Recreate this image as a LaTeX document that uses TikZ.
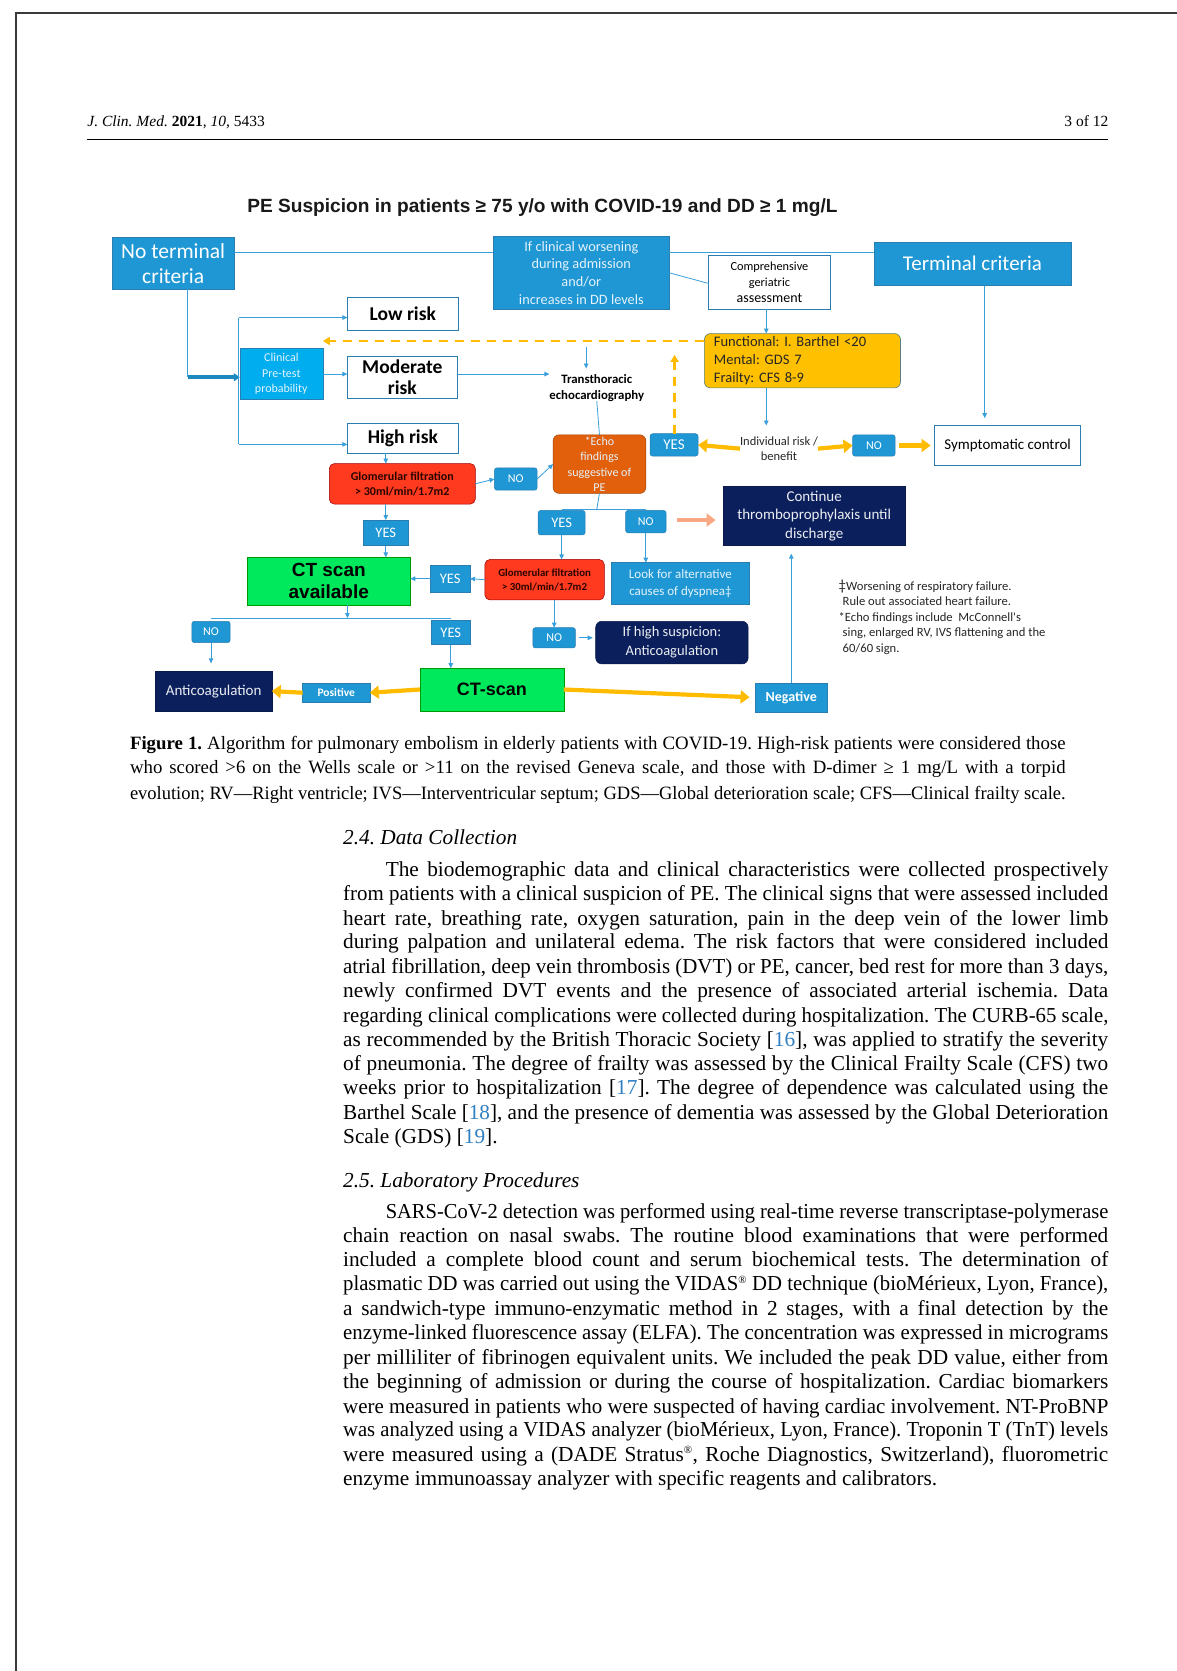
\documentclass[tikz,border=0pt]{standalone}
\usepackage{fontspec}
\usepackage{graphicx}
\setmainfont{Liberation Serif}
\newfontfamily\cali{Carlito}
\newfontfamily\arial{Liberation Sans}
\usetikzlibrary{arrows.meta,calc}

\definecolor{boxblue}{HTML}{1E97D4}
\definecolor{boxblueedge}{HTML}{2A7DB0}
\definecolor{cyanbox}{HTML}{00AEEF}
\definecolor{wireblue}{HTML}{3AA0DC}
\definecolor{amber}{HTML}{FFBB00}
\definecolor{amberbox}{HTML}{FFC000}
\definecolor{redbox}{HTML}{FF3A1E}
\definecolor{echobox}{HTML}{E2600C}
\definecolor{navy}{HTML}{0A1F5C}
\definecolor{greenbox}{HTML}{00E85C}
\definecolor{salmon}{HTML}{F8A882}
\definecolor{citeblue}{HTML}{2F7FC1}
\definecolor{framegray}{HTML}{3A3A3A}
\definecolor{paletext}{HTML}{E4F2FB}
\definecolor{darkred}{HTML}{2A0500}

\newcommand\fs[2]{\fontsize{#1}{#2}\selectfont}
\newsavebox\linebox
% one justified text line: spaces stretched, or glyphs squeezed when too long
\newcommand\fitline[2]{\sbox\linebox{#2}%
  \ifdim\wd\linebox>#1\relax\resizebox{#1}{\ht\linebox}{\usebox\linebox}%
  \else\makebox[#1][s]{#2}\fi}
\newcommand\citeref[1]{[\textcolor{citeblue}{#1}]}
\newcommand\regmark{\textsuperscript{\fs{11}{11}®}}
% box given by its corners (x1,y1) (x2,y2)
\newcommand\bx[7]{%
  \pgfmathsetmacro\bxw{(#5-#3)*1.0652}%
  \pgfmathsetmacro\bxh{(#6-#4)*1.0652}%
  \node[#2, minimum width=\bxw pt, minimum height=\bxh pt] (#1) at ({(#3+#5)/2},{(#4+#6)/2}) {#7};}

\begin{document}
\frenchspacing
\begin{tikzpicture}[x=1.0652pt,y=-1.0652pt,
  every node/.style={inner sep=0pt,outer sep=0pt},
  box/.style={align=center},
  bluebox/.style={box,fill=boxblue,draw=boxblueedge,line width=0.5pt,text=white},
  pill/.style={bluebox,rounded corners=2.5pt,font=\cali\fs{12}{12}},
  sqtag/.style={bluebox,font=\cali\fs{14.5}{14.5}},
  whitebox/.style={box,fill=white,draw=boxblueedge,line width=0.8pt,text=black},
  riskbox/.style={whitebox,font=\cali\bfseries\fs{19.5}{21.5}},
  cyanbox/.style={box,fill=cyanbox,draw=boxblueedge,line width=0.5pt,text=paletext,font=\cali\fs{12}{15.5}},
  amberbox/.style={box,fill=amberbox,draw=gray!70!teal,line width=0.6pt,rounded corners=6pt,text=black!85},
  redbox/.style={box,fill=redbox,draw=red!60!black,line width=0.5pt,rounded corners=5pt,text=darkred,font=\cali\bfseries\fs{12}{15}},
  echobox/.style={box,fill=echobox,draw=echobox!70!black,line width=0.5pt,rounded corners=6pt,text=paletext,font=\cali\fs{12}{15.3}},
  navybox/.style={box,fill=navy,draw=navy!80!black,line width=0.5pt,text=white!92!navy},
  greenbox/.style={box,fill=greenbox,draw=green!60!black,line width=0.5pt,text=black,font=\arial\bfseries\fs{19}{22}},
  plaintext/.style={align=center,text=black!85},
  wire/.style={draw=wireblue,line width=0.8pt},
  wirearrow/.style={wire,-{Triangle[length=5pt,width=4.5pt]}},
  fatarrow/.style={draw=amber,line width=4.2pt,-{Triangle[length=9pt,width=13pt]}},
  peacharrow/.style={draw=salmon,line width=4.2pt,-{Triangle[length=9pt,width=13pt]}},
  bluefat/.style={draw=boxblue!90!black,line width=4pt,-{Triangle[length=6pt,width=8pt]}},
  dasharrow/.style={draw=amber,line width=2.2pt,dash pattern=on 9pt off 7pt,-{Triangle[length=7pt,width=8pt]}},
  bodytext/.style={anchor=mid west,font=\fs{21.3}{24}},
  captext/.style={anchor=mid west,font=\fs{18.8}{22}},
]
\useasboundingbox (0,0) rectangle (1104,1568);
\fill[white] (0,0) rectangle (1104,1568);

% page frame
\draw[framegray,line width=1.6pt] (14,12) -- (1104,12);
\draw[framegray,line width=1.6pt] (15,12) -- (15,1568);

% running head
\node[anchor=mid west,font=\fs{15.5}{18}] (head) at (82,117) {\textit{J. Clin. Med.} \textbf{2021}, \textit{10}, 5433};
\node[anchor=mid east,font=\fs{15.5}{18}] (pageno) at (1040,117) {3 of 12};
\draw[black,line width=0.9pt] (82,131) -- (1040,131);

% ---------- flowchart ----------
\node[font=\arial\bfseries\fs{19.1}{21},text=black!90] (title) at (509,195)
  {PE Suspicion in patients ≥ 75 y/o with COVID-19 and DD ≥ 1 mg/L};

\bx{noterm}{bluebox,font=\cali\fs{21.5}{25}}{105}{223}{220}{271}{No terminal\\criteria}
\bx{ifclin}{bluebox,text=paletext,font=\cali\fs{14.3}{17.8}}{463}{222}{628}{290}{If clinical worsening\\during admission\\and/or\\increases in DD levels}
\bx{comp}{whitebox,font=\cali\fs{12.3}{16}}{665}{240}{779}{290}{Comprehensive\\geriatric\\{\fs{14}{16}assessment}}
\bx{termcrit}{bluebox,font=\cali\fs{21}{24}}{820}{227}{1005}{268}{Terminal criteria}

\bx{low}{riskbox}{326}{279}{430}{310}{Low risk}
\bx{clin}{cyanbox}{225}{327}{303}{375}{Clinical\\Pre-test\\probability}
\bx{mod}{riskbox}{326}{334}{429}{374}{Moderate\\risk}
\bx{high}{riskbox}{326}{397}{430}{425}{High risk}

\node[plaintext,text=black,font=\cali\bfseries\fs{12.8}{15.5}] (tte) at (560,364) {Transthoracic\\echocardiography};
\bx{func}{amberbox,align=left,text width=177pt,font=\cali\fs{14.5}{17.6}\frenchspacing}{661}{313}{845}{364}{Functional:\ I.\ Barthel <20\\Mental:\ GDS 7\\Frailty:\ CFS 8-9}

\bx{yesE}{pill,font=\cali\fs{15}{15}}{610}{407}{655}{428}{YES}
\node[plaintext,font=\cali\fs{12.5}{15.5}] (indiv) at (731,421) {Individual risk /\\benefit};
\bx{noE}{pill}{800}{408}{840}{428}{NO}
\bx{sympt}{whitebox,font=\cali\fs{15}{16}}{877}{399}{1014}{437}{Symptomatic control}

\bx{glomA}{redbox}{309}{435}{446}{473}{Glomerular filtration\\> 30ml/min/1.7m2}
\bx{noA}{pill}{464}{439}{504}{460}{NO}
\bx{echo}{echobox}{519}{408}{606}{463}{*Echo\\findings\\suggestive of\\PE}
\bx{yesA}{sqtag}{341}{488}{383}{512}{YES}
\bx{yesB}{pill,font=\cali\fs{14.5}{14.5}}{505}{479}{549}{502}{YES}
\bx{noB}{pill}{587}{479}{625}{500}{NO}
\bx{cont}{navybox,font=\cali\fs{15}{18.5}}{679}{456}{849}{512}{Continue\\thromboprophylaxis until\\discharge}
\bx{look}{bluebox,text=paletext,font=\cali\fs{13}{17}}{574}{528}{703}{567}{Look for alternative\\causes of dyspnea‡}

\bx{ctav}{greenbox}{232}{523}{385}{568}{CT scan\\available}
\bx{yesC}{sqtag}{404}{530}{441}{556}{YES}
\bx{glomB}{redbox,font=\cali\bfseries\fs{10.8}{14}}{455}{525}{567}{563}{Glomerular filtration\\> 30ml/min/1.7m2}

\bx{noC}{pill}{180}{583}{216}{603}{NO}
\bx{yesD}{sqtag}{405}{582}{441}{605}{YES}
\bx{noD}{pill}{500}{589}{540}{608}{NO}
\bx{hisus}{navybox,rounded corners=6pt,font=\cali\fs{14.5}{19}}{559}{583}{702}{623}{If high suspicion:\\Anticoagulation}

\bx{anti}{navybox,font=\cali\fs{15}{16}}{146}{630}{255}{667}{Anticoagulation}
\bx{pos}{bluebox,font=\cali\bfseries\fs{11.5}{12}}{284}{641}{347}{659}{Positive}
\bx{ct}{greenbox,font=\arial\bfseries\fs{18}{20}}{394}{627}{529}{667}{CT-scan}
\bx{neg}{bluebox,font=\cali\bfseries\fs{14}{15}}{709}{641}{776}{668}{Negative}

\node[anchor=north west,align=left,text=black!85,font=\cali\fs{12.6}{15.6}] (notes) at (787,544)
  {{\fs{15}{15.6}‡}Worsening of respiratory failure.\\
   \hspace*{4pt}Rule out associated heart failure.\\
   *Echo findings include\ \ McConnell's\\
   \hspace*{4pt}sing, enlarged RV, IVS flattening and the\\
   \hspace*{4pt}60/60 sign.};

% helper points for the junctions
\coordinate (jn) at (176,354);
\coordinate (lowtap) at (224,298);
\coordinate (hightap) at (224,417);
\coordinate (dashend) at (303,320);
\coordinate (ttein) at (550,326);
\coordinate (dashup) at (633,333);
\coordinate (echosplit) at (560,478);
\coordinate (salmstart) at (635,488);
\coordinate (ctsplit) at (326,580);

% connectors
\draw[wire] (noterm.east |- 0,237) -- (ifclin.west |- 0,237);
\draw[wire] (ifclin.east |- 0,237) -- (termcrit.west |- 0,237);
\draw[wire] (ifclin.east |- 0,256) -- (comp.west |- 0,266);
\draw[wirearrow] (comp.south -| 719,0) -- (func.north -| 719,0);
\draw[wirearrow,shorten >=11pt] (func.south -| 719,0) -- (indiv.north -| 719,0);
\draw[wirearrow,shorten >=7pt] (termcrit.south -| 924,0) -- (sympt.north -| 924,0);

\draw[wire] (noterm.south -| jn) -- (jn);
\draw[bluefat] (jn) -- (clin.west |- jn);
\draw[wire] (lowtap) -- (hightap);
\draw[wirearrow] (lowtap) -- (low.west |- lowtap);
\draw[wirearrow] (hightap) -- (high.west |- hightap);
\draw[wirearrow] (clin.east |- 0,351) -- (mod.west |- 0,351);
\draw[wirearrow] (mod.east |- 0,351) -- (tte.west |- 0,351);

\draw[dasharrow] (func.west |- dashend) -- (dashend);
\draw[wirearrow,shorten >=6pt] (ttein) -- (ttein |- tte.north);
\draw[wire] (tte.south) -- (echo.north);
\draw[dasharrow] (yesE.north -| dashup) -- (dashup);

\draw[fatarrow] (indiv.west) -- (yesE.east);
\draw[fatarrow] (indiv.east) -- (noE.west);
\draw[fatarrow,shorten >=4pt,shorten <=4pt] (noE.east) -- (sympt.west);

\draw[wirearrow] (high.south -| yesA.north) -- (glomA.north -| yesA.north);
\draw[wirearrow] (glomA.east) -- (noA.west);
\draw[wirearrow] (noA.east) -- (echo.west);
\draw[wirearrow] (glomA.south -| yesA.north) -- (yesA.north);
\draw[wirearrow] (yesA.south) -- (ctav.north -| yesA.south);

\draw[wire] (echo.south) -- (echosplit);
\draw[wire] (yesB.north |- echosplit) -- (noB.north |- echosplit);
\draw[wirearrow] (yesB.south) -- (glomB.north -| yesB.south);
\draw[wirearrow] (noB.south) -- (look.north -| noB.south);
\draw[peacharrow,shorten >=8pt] (salmstart) -- (cont.west |- salmstart);

\draw[wirearrow] (glomB.west) -- (yesC.east);
\draw[wirearrow] (yesC.west) -- (ctav.east |- yesC.west);

\draw[wirearrow] (ctav.south -| ctsplit) -- (ctsplit);
\draw[wire] (noC.north |- ctsplit) -- (yesD.north |- ctsplit);
\draw[wirearrow,shorten >=8pt] (noC.south) -- (anti.north -| noC.south);
\draw[wirearrow] (yesD.south) -- (ct.north -| yesD.south);

\draw[wirearrow] (glomB.south -| noD.north) -- (noD.north);
\draw[wirearrow,shorten <=4pt,shorten >=3pt] (noD.east) -- (hisus.west |- noD.east);

\draw[fatarrow] (ct.west) -- (pos.east);
\draw[fatarrow] (pos.west) -- (anti.east);
\draw[fatarrow,shorten >=6pt] (ct.east) -- (neg.west);
\draw[wirearrow,shorten >=8pt] (neg.north) -- (cont.south -| neg.north);

% ---------- caption ----------
\node[captext] (cap1) at (122,701) {\fitline{935.2pt}{\textbf{Figure 1.} Algorithm for pulmonary embolism in elderly patients with COVID-19. High-risk patients were considered those}};
\node[captext] (cap2) at (122,724) {\fitline{935.2pt}{who scored >6 on the Wells scale or >11 on the revised Geneva scale, and those with D-dimer ≥ 1 mg/L with a torpid}};
\node[captext] (cap3) at (122,748) {\fitline{935.2pt}{evolution; RV—Right ventricle; IVS—Interventricular septum; GDS—Global deterioration scale; CFS—Clinical frailty scale.}};

% ---------- section 2.4 ----------
\node[bodytext] (sec24) at (322,790) {\textit{2.4. Data Collection}};
\node[bodytext] (a1) at (362,820) {\fitline{722.2pt}{The biodemographic data and clinical characteristics were collected prospectively}};
\node[bodytext] (a2) at (322,843) {\fitline{764.8pt}{from patients with a clinical suspicion of PE. The clinical signs that were assessed included}};
\node[bodytext] (a3) at (322,866) {\fitline{764.8pt}{heart rate, breathing rate, oxygen saturation, pain in the deep vein of the lower limb}};
\node[bodytext] (a4) at (322,888) {\fitline{764.8pt}{during palpation and unilateral edema. The risk factors that were considered included}};
\node[bodytext] (a5) at (322,911) {\fitline{764.8pt}{atrial fibrillation, deep vein thrombosis (DVT) or PE, cancer, bed rest for more than 3 days,}};
\node[bodytext] (a6) at (322,934) {\fitline{764.8pt}{newly confirmed DVT events and the presence of associated arterial ischemia. Data}};
\node[bodytext] (a7) at (322,957) {\fitline{764.8pt}{regarding clinical complications were collected during hospitalization. The CURB-65 scale,}};
\node[bodytext] (a8) at (322,980) {\fitline{764.8pt}{as recommended by the British Thoracic Society \citeref{16}, was applied to stratify the severity}};
\node[bodytext] (a9) at (322,1002) {\fitline{764.8pt}{of pneumonia. The degree of frailty was assessed by the Clinical Frailty Scale (CFS) two}};
\node[bodytext] (a10) at (322,1025) {\fitline{764.8pt}{weeks prior to hospitalization \citeref{17}. The degree of dependence was calculated using the}};
\node[bodytext] (a11) at (322,1048) {\fitline{764.8pt}{Barthel Scale \citeref{18}, and the presence of dementia was assessed by the Global Deterioration}};
\node[bodytext] (a12) at (322,1071) {Scale (GDS) \citeref{19}.};

% ---------- section 2.5 ----------
\node[bodytext] (sec25) at (322,1112) {\textit{2.5. Laboratory Procedures}};
\node[bodytext] (b1) at (362,1141) {\fitline{722.2pt}{SARS-CoV-2 detection was performed using real-time reverse transcriptase-polymerase}};
\node[bodytext] (b2) at (322,1164) {\fitline{764.8pt}{chain reaction on nasal swabs. The routine blood examinations that were performed}};
\node[bodytext] (b3) at (322,1186) {\fitline{764.8pt}{included a complete blood count and serum biochemical tests. The determination of}};
\node[bodytext] (b4) at (322,1209) {\fitline{764.8pt}{plasmatic DD was carried out using the VIDAS\regmark{} DD technique (bioMérieux, Lyon, France),}};
\node[bodytext] (b5) at (322,1232) {\fitline{764.8pt}{a sandwich-type immuno-enzymatic method in 2 stages, with a final detection by the}};
\node[bodytext] (b6) at (322,1255) {\fitline{764.8pt}{enzyme-linked fluorescence assay (ELFA). The concentration was expressed in micrograms}};
\node[bodytext] (b7) at (322,1278) {\fitline{764.8pt}{per milliliter of fibrinogen equivalent units. We included the peak DD value, either from}};
\node[bodytext] (b8) at (322,1301) {\fitline{764.8pt}{the beginning of admission or during the course of hospitalization. Cardiac biomarkers}};
\node[bodytext] (b9) at (322,1324) {\fitline{764.8pt}{were measured in patients who were suspected of having cardiac involvement. NT-ProBNP}};
\node[bodytext] (b10) at (322,1346) {\fitline{764.8pt}{was analyzed using a VIDAS analyzer (bioMérieux, Lyon, France). Troponin T (TnT) levels}};
\node[bodytext] (b11) at (322,1369) {\fitline{764.8pt}{were measured using a (DADE Stratus\regmark, Roche Diagnostics, Switzerland), fluorometric}};
\node[bodytext] (b12) at (322,1392) {enzyme immunoassay analyzer with specific reagents and calibrators.};
\end{tikzpicture}
\end{document}
